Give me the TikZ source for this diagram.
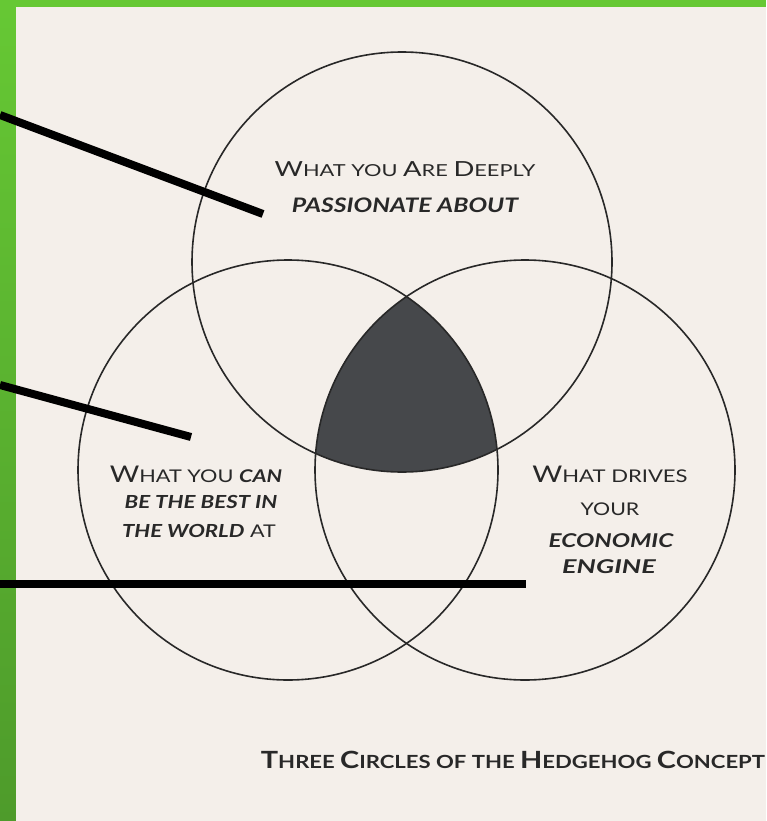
\documentclass[tikz,border=0pt]{standalone}
\usepackage{fontspec}
\setmainfont{Lato}
\newcommand\BL[2]{{\fontsize{#1}{#1}\selectfont #2}}
\newcommand\SX[2]{\scalebox{#1}[1]{#2}}
\definecolor{paper}{RGB}{244,239,234}
\definecolor{greenA}{RGB}{102,200,52}
\definecolor{greenB}{RGB}{78,155,43}
\definecolor{ink}{RGB}{40,40,40}
\definecolor{hubgray}{RGB}{70,72,75}
\tikzset{
  ring/.style={draw=ink, line width=1.6pt},
  pointer/.style={draw=black, line width=8pt},
  lbl/.style={anchor=base, inner sep=0pt, text=ink},
}
\begin{document}
\begin{tikzpicture}[x=1pt,y=-1pt]
\useasboundingbox (0,0) rectangle (766,821);
% background
\fill[greenA] (0,0) rectangle (766,821);
\shade[top color=greenA, bottom color=greenB] (0,0) rectangle (16,821);
\fill[paper] (16,7) rectangle (766,821);
% circles
\coordinate (ctop) at (402,262);
\coordinate (cleft) at (288,470);
\coordinate (cright) at (525,470);
\begin{scope}
  \clip (ctop) circle (210);
  \clip (cleft) circle (210);
  \fill[hubgray] (cright) circle (210);
\end{scope}
\draw[ring] (ctop) circle (210);
\draw[ring] (cleft) circle (210);
\draw[ring] (cright) circle (210);
% texts
\node[lbl] (t1a) at (405,177) {\SX{1.32}{\fontsize{16.5}{16.5}\selectfont\BL{20.8}{W}HAT YOU \BL{20.8}{A}RE \BL{20.8}{D}EEPLY}};
\node[lbl] (t1b) at (405,212) {\SX{1.24}{\fontsize{20}{20}\selectfont\bfseries\itshape PASSIONATE ABOUT}};
\node[lbl] (t2a) at (196,482) {\SX{1.24}{\fontsize{17.5}{17.5}\selectfont\BL{23}{W}HAT YOU {\bfseries\itshape CAN}}};
\node[lbl] (t2b) at (201,508) {\SX{1.24}{\fontsize{18}{18}\selectfont\bfseries\itshape BE THE BEST IN}};
\node[lbl] (t2c) at (199,537) {\SX{1.23}{\fontsize{18}{18}\selectfont{\bfseries\itshape THE WORLD} \fontsize{17.5}{17.5}\selectfont AT}};
\node[lbl] (t3a) at (610,482) {\SX{1.26}{\fontsize{17.5}{17.5}\selectfont\BL{23}{W}HAT DRIVES}};
\node[lbl] (t3b) at (610,515) {\SX{1.22}{\fontsize{17.5}{17.5}\selectfont YOUR}};
\node[lbl] (t3c) at (611,547) {\SX{1.28}{\fontsize{19}{19}\selectfont\bfseries\itshape ECONOMIC}};
\node[lbl] (t3d) at (609,573) {\SX{1.42}{\fontsize{19}{19}\selectfont\bfseries\itshape ENGINE}};
\node[lbl] (title) at (513,768) {\SX{1.22}{\fontsize{18.1}{18.1}\selectfont\bfseries \BL{23.7}{T}HREE \BL{23.7}{C}IRCLES OF THE \BL{23.7}{H}EDGEHOG \BL{23.7}{C}ONCEPT}};
% pointers
\coordinate (p1s) at (0,115);
\coordinate (p1e) at (263,214);
\coordinate (p2s) at (0,385);
\coordinate (p2e) at (191,437);
\coordinate (p3s) at (0,584);
\coordinate (p3e) at (526,584);
\draw[pointer] (p1s) -- (p1e);
\draw[pointer] (p2s) -- (p2e);
\draw[pointer] (p3s) -- (p3e);
\end{tikzpicture}
\end{document}
